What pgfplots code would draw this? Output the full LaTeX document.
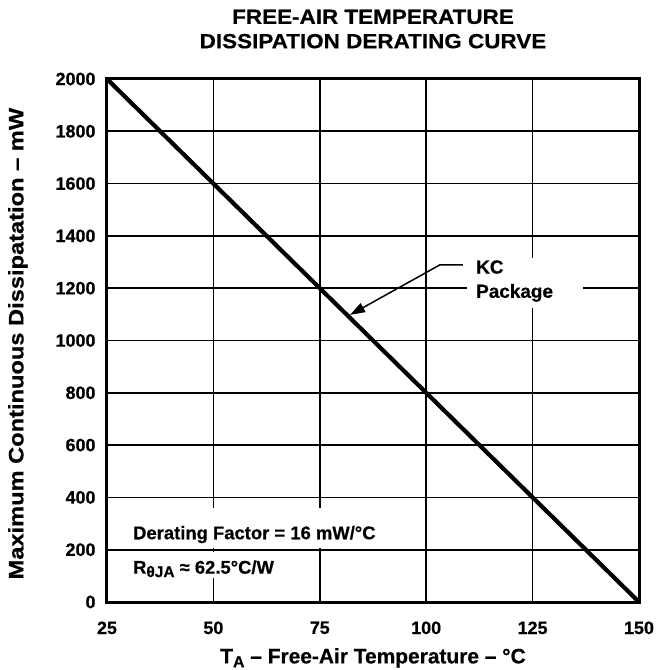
\documentclass[border=0pt]{standalone}
\usepackage{fontspec}
\setmainfont{Liberation Sans}[BoldFeatures={FakeBold=0.5}]
\usepackage{pgfplots}
\pgfplotsset{compat=1.18}
\usetikzlibrary{arrows.meta}

\begin{document}
\begin{tikzpicture}
\begin{axis}[
    scale only axis,
    width=532bp, height=523bp,
    xmin=25, xmax=150, ymin=0, ymax=2000,
    xtick={25,50,...,150},
    ytick={0,200,...,2000},
    grid=major,
    grid style={black, line width=1.6bp},
    axis line style={line width=3bp, line join=miter},
    major tick length=0pt,
    tick label style={font=\fontsize{18}{20}\selectfont\bfseries},
    /pgf/number format/assume math mode=true,
    /pgf/number format/1000 sep={},
    xticklabel style={yshift=-16bp},
    yticklabel style={xshift=-8bp},
    title={\scalebox{1.1}[1]{FREE-AIR TEMPERATURE}\\\scalebox{1.1}[1]{DISSIPATION DERATING CURVE}},
    title style={align=center, font=\fontsize{20.5}{24.5}\selectfont\bfseries,
        at={(axis description cs:0.5,1.084)}, anchor=center},
    xlabel={T\raisebox{-0.35ex}{\fontsize{16}{16}\selectfont A} -- Free-Air Temperature -- °C},
    ylabel={\scalebox{1.13}[1]{Maximum Continuous Dissipatation -- mW}},
    label style={font=\fontsize{21}{22}\selectfont\bfseries},
    xlabel style={at={(axis description cs:0.5,-0.107)}, anchor=center},
    ylabel style={at={(axis description cs:-0.1673,0.494)}, anchor=center},
]
% white boxes behind the notes
\fill[white] (axis cs:28.05,206) rectangle (axis cs:89.5,359);
\fill[white] (axis cs:28.05,92) rectangle (axis cs:72.7,191);
\fill[white] (axis cs:109.6,1124) rectangle (axis cs:136.8,1315);

\addplot[black, line width=4.2bp] coordinates {(25,2000) (150,0)};

\node[anchor=west, inner sep=0pt, font=\fontsize{18.5}{20}\selectfont\bfseries]
    at (axis cs:31.1,258) {Derating Factor = 16 mW/°C};
\node[anchor=west, inner sep=0pt, font=\fontsize{18.5}{20}\selectfont\bfseries]
    at (axis cs:31.1,127) {R\raisebox{-0.35ex}{\fontsize{15.5}{15}\selectfont θJA} ≈ 62.5°C/W};

\node[anchor=west, inner sep=0pt, font=\fontsize{19}{20}\selectfont\bfseries]
    at (axis cs:111.7,1281) {KC};
\node[anchor=west, inner sep=0pt, font=\fontsize{19}{20}\selectfont\bfseries]
    at (axis cs:111.7,1182) {Package};
\draw[line width=1.5bp, -{Triangle[length=15bp, width=10bp]}]
    (axis cs:108.6,1289) -- (axis cs:103.2,1289) -- (axis cs:82.1,1098);
\end{axis}
\pgfresetboundingbox
\path (-107bp,-68bp) rectangle (550bp,602bp);
\end{tikzpicture}
\end{document}
